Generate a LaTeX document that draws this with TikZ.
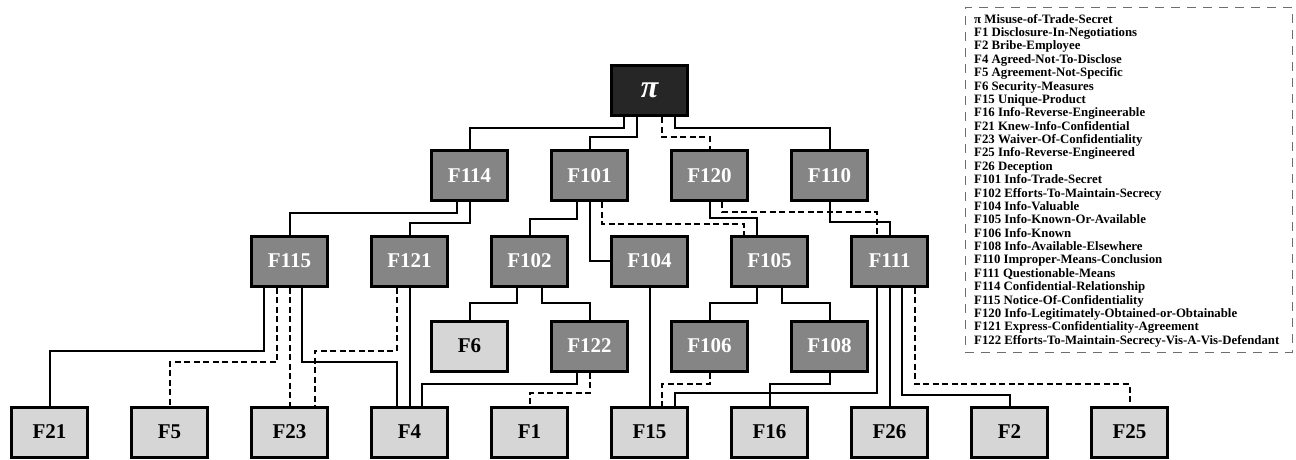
\documentclass[tikz,border=0pt]{standalone}
\usepackage{fontspec}
\setmainfont{Liberation Serif}
\definecolor{topfill}{HTML}{262626}
\definecolor{midfill}{HTML}{858585}
\definecolor{leaffill}{HTML}{D6D6D6}
\definecolor{legendline}{HTML}{6E6E6E}
\tikzset{
  fbox/.style={draw=black, line width=3pt, minimum width=76pt, minimum height=50pt,
    inner sep=0pt, font=\bfseries\fontsize{21}{21}\selectfont},
  topbox/.style={fbox, fill=topfill, text=white, font=\bfseries\itshape\fontsize{32}{32}\selectfont},
  midbox/.style={fbox, fill=midfill, text=white},
  leafbox/.style={fbox, fill=leaffill, text=black},
  conn/.style={line width=2pt, draw=black},
  dconn/.style={conn, dash pattern=on 6pt off 3.5pt},
  legendframe/.style={draw=legendline, line width=1pt, dash pattern=on 9pt off 7pt,
    minimum width=327pt, minimum height=345pt, inner sep=0pt},
  legendtext/.style={anchor=north west, align=left, inner sep=0pt,
    font=\bfseries\fontsize{12.8}{13.375}\selectfont}
}
\begin{document}
\begin{tikzpicture}[x=1pt,y=-1pt]
\useasboundingbox (0,0) rectangle (1296,459);
% level 0
\node[topbox] (root) at (649.5,90.5) {π};
% level 1
\node[midbox] (F114) at (469.5,175.5) {F114};
\node[midbox] (F101) at (589.5,175.5) {F101};
\node[midbox] (F120) at (709.5,175.5) {F120};
\node[midbox] (F110) at (829.5,175.5) {F110};
% level 2
\node[midbox] (F115) at (289.5,261) {F115};
\node[midbox] (F121) at (409.5,261) {F121};
\node[midbox] (F102) at (529.5,261) {F102};
\node[midbox] (F104) at (649.5,261) {F104};
\node[midbox] (F105) at (769.5,261) {F105};
\node[midbox] (F111) at (889.5,261) {F111};
% level 3
\node[leafbox] (F6) at (469.5,346) {F6};
\node[midbox] (F122) at (589.5,346) {F122};
\node[midbox] (F106) at (709.5,346) {F106};
\node[midbox] (F108) at (829.5,346) {F108};
% level 4
\node[leafbox] (F21) at (49.5,432) {F21};
\node[leafbox] (F5) at (169.5,432) {F5};
\node[leafbox] (F23) at (289.5,432) {F23};
\node[leafbox] (F4) at (409.5,432) {F4};
\node[leafbox] (F1) at (529.5,432) {F1};
\node[leafbox] (F15) at (649.5,432) {F15};
\node[leafbox] (F16) at (769.5,432) {F16};
\node[leafbox] (F26) at (889.5,432) {F26};
\node[leafbox] (F2) at (1009.5,432) {F2};
\node[leafbox] (F25) at (1129.5,432) {F25};
% connectors: level 0 -> 1
\draw[conn] ([xshift=-25.6pt]root.south) |- (469.5,127.7) -- (F114.north);
\draw[conn] ([xshift=-12.8pt]root.south) |- (589.5,137) -- (F101.north);
\draw[dconn] ([xshift=12.8pt]root.south) |- (709.5,137) -- (F120.north);
\draw[conn] ([xshift=25.6pt]root.south) |- (829.5,127.7) -- (F110.north);
% level 1 -> 2
\draw[conn] ([xshift=-12.8pt]F114.south) |- (289.5,213.3) -- (F115.north);
\draw[conn] (F114.south) |- (409.5,223.3) -- (F121.north);
\draw[conn] ([xshift=-12.8pt]F101.south) |- (529.5,219) -- (F102.north);
\draw[conn] (F101.south) |- (F104.west);
\draw[dconn] ([xshift=12.8pt]F101.south) |- (743.9,224.3) -- ([xshift=-25.6pt]F105.north);
\draw[conn] (F120.south) |- (756.7,218.3) -- ([xshift=-12.8pt]F105.north);
\draw[dconn] ([xshift=12.8pt]F120.south) |- (876.7,211.7) -- ([xshift=-12.8pt]F111.north);
\draw[conn] (F110.south) |- (889.5,221.7) -- (F111.north);
% level 2 -> lower
\draw[conn] ([xshift=-25.6pt]F115.south) |- (49.5,350.7) -- (F21.north);
\draw[dconn] ([xshift=-12.8pt]F115.south) |- (169.5,362.3) -- (F5.north);
\draw[dconn] (F115.south) -- (F23.north);
\draw[conn] ([xshift=12.8pt]F115.south) |- (396.7,362.3) -- ([xshift=-12.8pt]F4.north);
\draw[dconn] ([xshift=-12.8pt]F121.south) |- (315.1,350.7) -- ([xshift=25.6pt]F23.north);
\draw[conn] (F121.south) -- (F4.north);
\draw[conn] ([xshift=-12.8pt]F102.south) |- (469.5,303.3) -- (F6.north);
\draw[conn] ([xshift=12.8pt]F102.south) |- (589.5,303.3) -- (F122.north);
\draw[conn] (F104.south) -- (F15.north);
\draw[conn] ([xshift=-12.8pt]F105.south) |- (709.5,303.3) -- (F106.north);
\draw[conn] ([xshift=12.8pt]F105.south) |- (829.5,303.3) -- (F108.north);
\draw[conn] ([xshift=-12.8pt]F111.south) |- (675.1,393.3) -- ([xshift=25.6pt]F15.north);
\draw[conn] (F111.south) -- (F26.north);
\draw[conn] ([xshift=12.8pt]F111.south) |- (1009.5,395) -- (F2.north);
\draw[dconn] ([xshift=25.6pt]F111.south) |- (1129.5,384) -- (F25.north);
% level 3 -> 4
\draw[conn] ([xshift=-12.8pt]F122.south) |- (422.3,384) -- ([xshift=12.8pt]F4.north);
\draw[dconn] (F122.south) |- (529.5,393.3) -- (F1.north);
\draw[dconn] (F106.south) |- (662.3,384) -- ([xshift=12.8pt]F15.north);
\draw[conn] (F108.south) |- (769.5,384) -- (F16.north);
% legend
\node[legendframe] (legendbox) at (1128.5,179.5) {};
\node[legendtext] (legend) at (974,14) {%
π Misuse-of-Trade-Secret\\
F1 Disclosure-In-Negotiations\\
F2 Bribe-Employee\\
F4 Agreed-Not-To-Disclose\\
F5 Agreement-Not-Specific\\
F6 Security-Measures\\
F15 Unique-Product\\
F16 Info-Reverse-Engineerable\\
F21 Knew-Info-Confidential\\
F23 Waiver-Of-Confidentiality\\
F25 Info-Reverse-Engineered\\
F26 Deception\\
F101 Info-Trade-Secret\\
F102 Efforts-To-Maintain-Secrecy\\
F104 Info-Valuable\\
F105 Info-Known-Or-Available\\
F106 Info-Known\\
F108 Info-Available-Elsewhere\\
F110 Improper-Means-Conclusion\\
F111 Questionable-Means\\
F114 Confidential-Relationship\\
F115 Notice-Of-Confidentiality\\
F120 Info-Legitimately-Obtained-or-Obtainable\\
F121 Express-Confidentiality-Agreement\\
F122 Efforts-To-Maintain-Secrecy-Vis-A-Vis-Defendant};
\end{tikzpicture}
\end{document}
